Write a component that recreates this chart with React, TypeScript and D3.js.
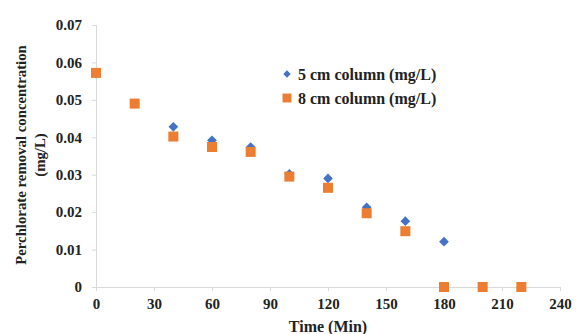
import * as d3 from 'd3'
import { useEffect, useRef } from 'react'

const times = [0, 20, 40, 60, 80, 100, 120, 140, 160, 180, 200, 220]
const col5 = [0.057, 0.049, 0.0428, 0.0392, 0.0374, 0.0302, 0.029, 0.0213, 0.0176, 0.0121, 0, 0]
const col8 = [0.0572, 0.049, 0.0402, 0.0374, 0.0361, 0.0295, 0.0265, 0.0197, 0.0149, 0, 0, 0]
const xTicks = [0, 30, 60, 90, 120, 150, 180, 210, 240]
const yTicks = [0, 0.01, 0.02, 0.03, 0.04, 0.05, 0.06, 0.07]
const seriesNames = ['5 cm column (mg/L)', '8 cm column (mg/L)']

export default function App() {
    const svgRef = useRef<SVGSVGElement>(null)

    useEffect(() => {
        makeChart(svgRef)
    }, [])

    function makeChart(svgRef: React.RefObject<SVGSVGElement>) {
        const width = 576
        const height = 334
        const font = '"Liberation Serif", "Times New Roman", serif'

        const svg = d3.select(svgRef.current).attr('width', width).attr('height', height)
        svg.selectAll('*').remove()
        svg.append('rect').attr('width', width).attr('height', height).attr('fill', '#fff')

        const x = d3.scaleLinear().domain([0, 240]).range([96, 560])
        const y = d3.scaleLinear().domain([0, 0.07]).range([287, 25])

        const axisColor = '#d9d9d9'

        // y axis
        const yAxis = svg.append('g').attr('transform', `translate(${x(0)},0)`)
            .call(d3.axisLeft(y).tickValues(yTicks).tickSize(4).tickPadding(10)
                .tickFormat(d => d === 0 ? '0' : d3.format('.2f')(d as number)))
        // x axis
        const xAxis = svg.append('g').attr('transform', `translate(0,${y(0)})`)
            .call(d3.axisBottom(x).tickValues(xTicks).tickSize(4).tickPadding(7))

        for (const g of [yAxis, xAxis]) {
            g.select('.domain').attr('stroke', axisColor)
            g.selectAll('.tick line').attr('stroke', axisColor)
            g.selectAll('.tick text')
                .attr('fill', '#222')
                .attr('font-family', font)
                .attr('font-weight', 'bold')
                .attr('font-size', 15)
        }

        // axis titles
        svg.append('text')
            .attr('x', x(120)).attr('y', 332)
            .attr('text-anchor', 'middle')
            .attr('font-family', font).attr('font-weight', 'bold').attr('font-size', 16)
            .attr('fill', '#222')
            .text('Time (Min)')

        const yTitle = svg.append('g').attr('transform', `translate(26,${155}) rotate(-90)`)
        yTitle.append('text')
            .attr('text-anchor', 'middle')
            .attr('font-family', font).attr('font-weight', 'bold').attr('font-size', 14.8)
            .attr('fill', '#222')
            .text('Perchlorate removal concentration')
        yTitle.append('text')
            .attr('y', 19)
            .attr('text-anchor', 'middle')
            .attr('font-family', font).attr('font-weight', 'bold').attr('font-size', 14.8)
            .attr('fill', '#222')
            .text('(mg/L)')

        const blue = '#4472C4'
        const orange = '#ED7D31'
        const diamond = d3.symbol().type(d3.symbolDiamond2).size(60)
        const square = d3.symbol().type(d3.symbolSquare).size(100)

        svg.append('g').selectAll('path')
            .data(times.map((t, i) => [t, col5[i]]))
            .enter()
            .append('path')
            .attr('d', diamond())
            .attr('transform', d => `translate(${x(d[0])},${y(d[1])})`)
            .attr('fill', blue)

        svg.append('g').selectAll('path')
            .data(times.map((t, i) => [t, col8[i]]))
            .enter()
            .append('path')
            .attr('d', square())
            .attr('transform', d => `translate(${x(d[0])},${y(d[1])})`)
            .attr('fill', orange)

        // legend
        const legend = svg.append('g').attr('transform', 'translate(287,74)')
        const markers = [d3.symbol().type(d3.symbolDiamond2).size(35)(), d3.symbol().type(d3.symbolSquare).size(80)()]
        const colors = [blue, orange]
        seriesNames.forEach((name, i) => {
            const row = legend.append('g').attr('transform', `translate(0,${i * 24})`)
            row.append('path').attr('d', markers[i]).attr('fill', colors[i])
            row.append('text')
                .attr('x', 11).attr('y', 5.5)
                .attr('font-family', font).attr('font-weight', 'bold').attr('font-size', 16)
                .attr('fill', '#222')
                .text(name)
        })
    }

    return (
        <svg ref={svgRef} style={{ display: 'block', position: 'absolute', left: 0, top: 0 }}></svg>
    )
}
